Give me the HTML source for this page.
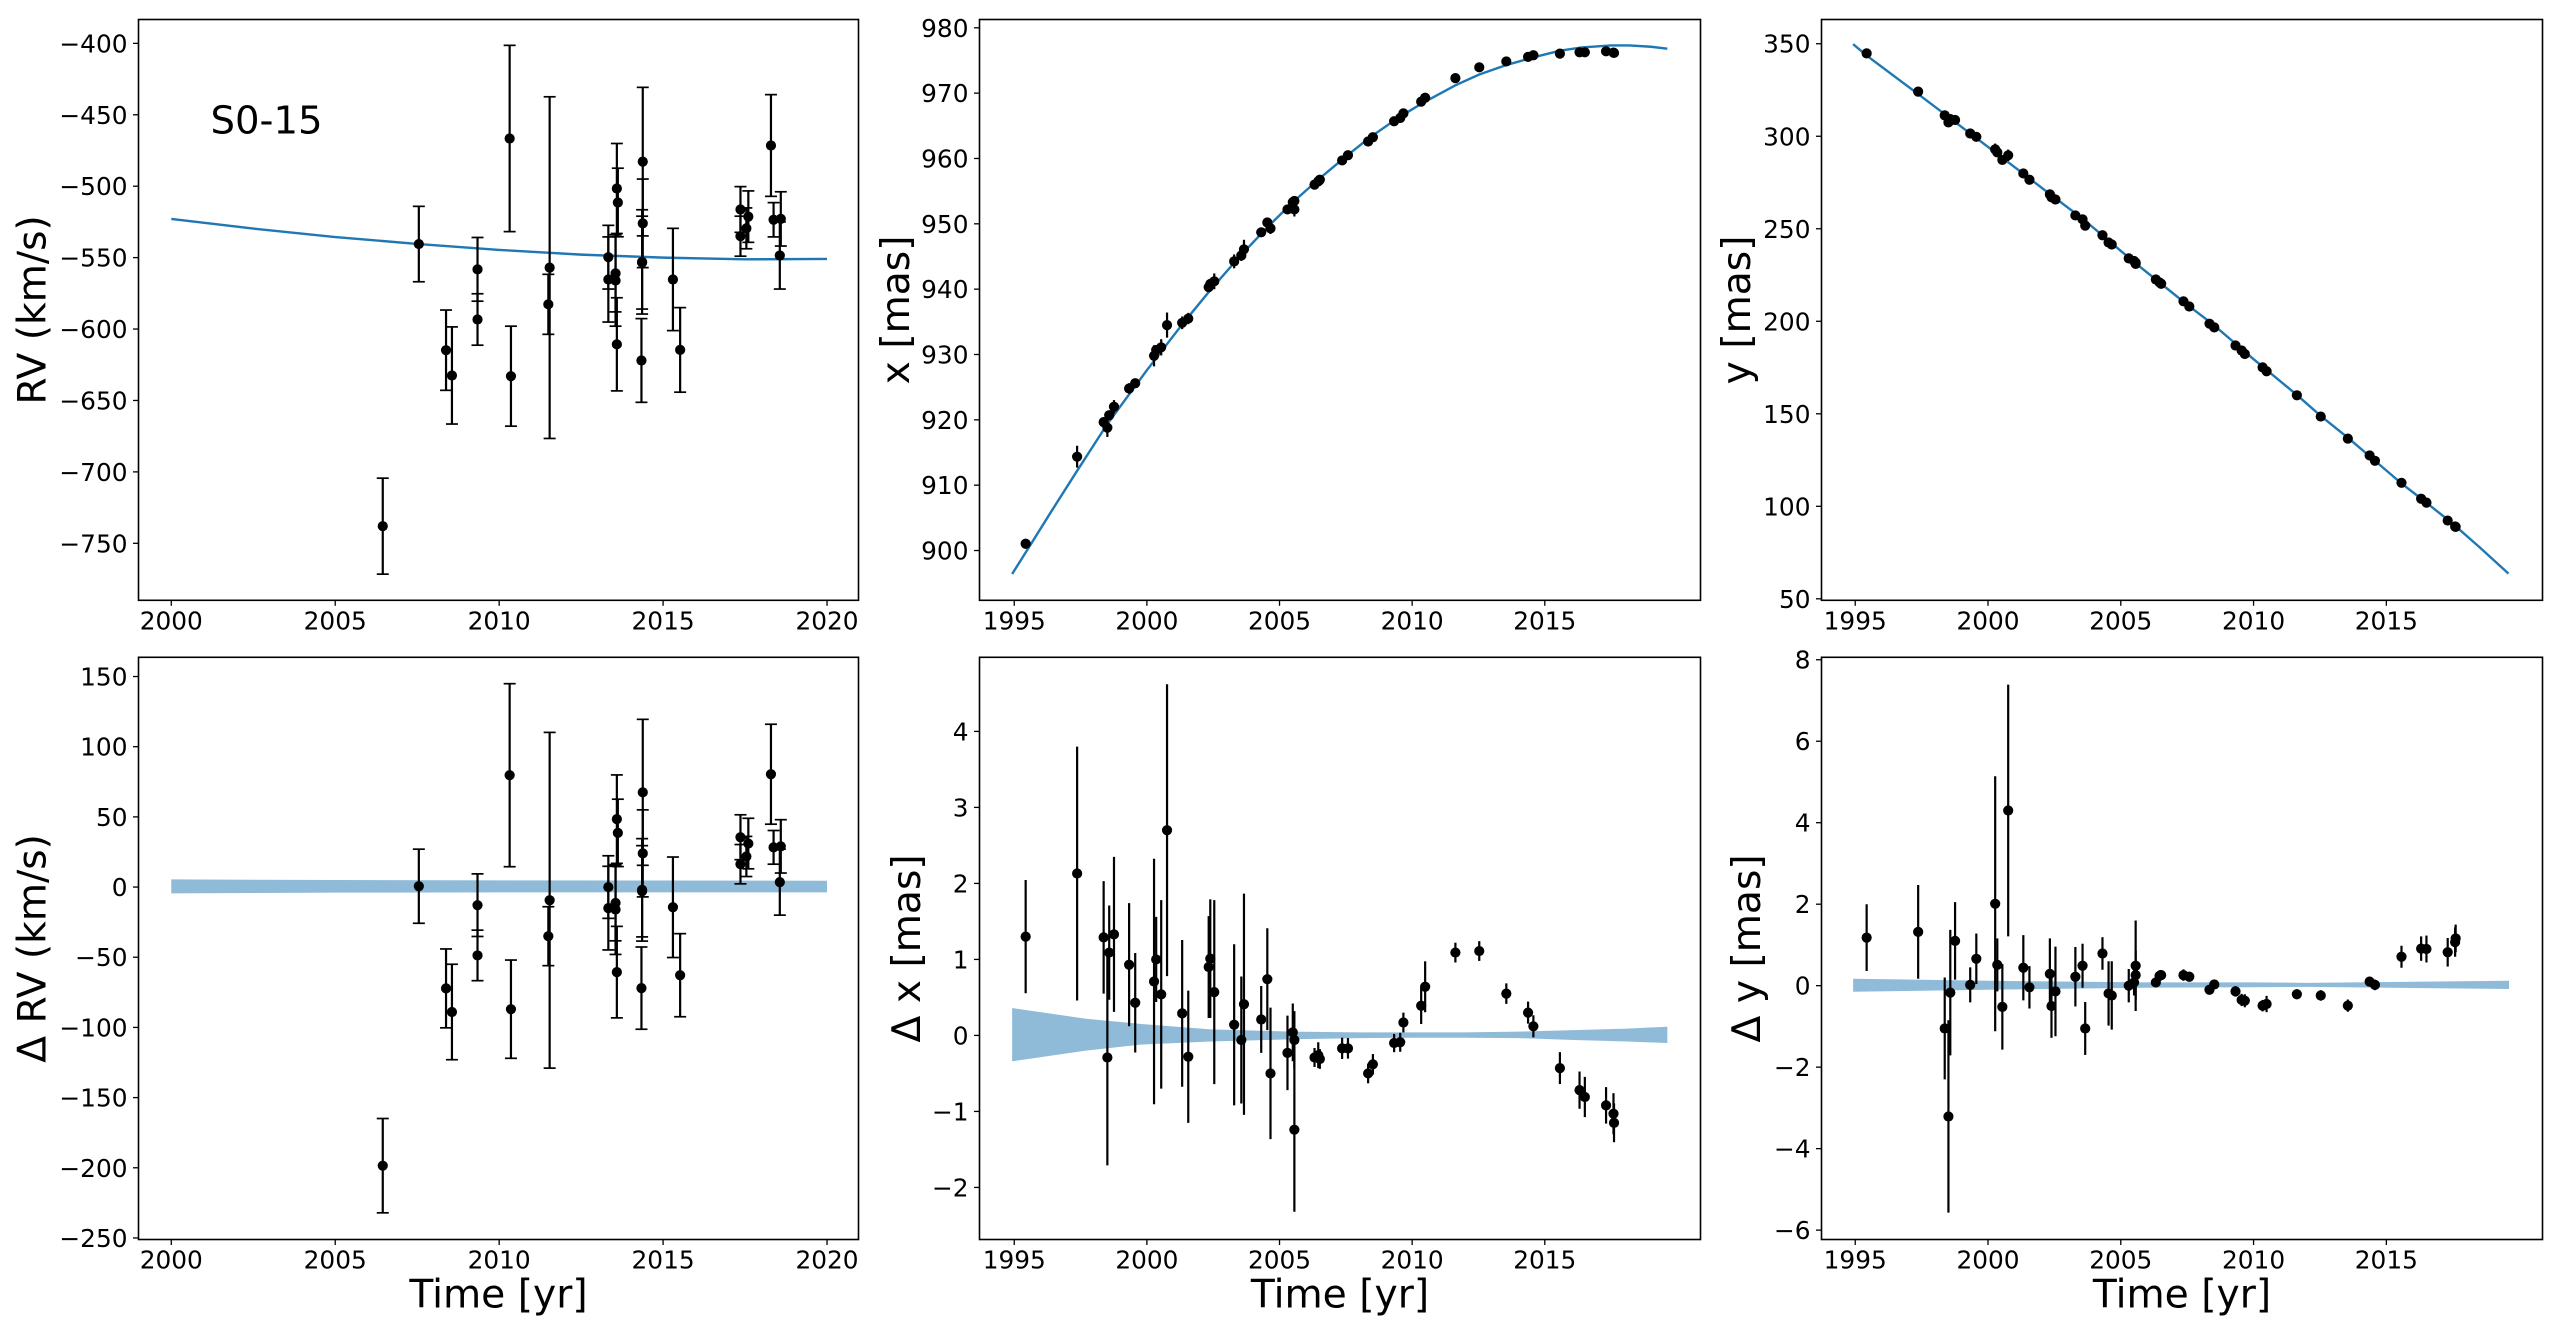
<!DOCTYPE html>
<html lang="en">
<head>
<meta charset="utf-8">
<title>S0-15 orbit fit</title>
<style>
html,body{margin:0;padding:0;background:#fff;}
#figure{display:block;width:2560px;height:1331px;background:#fff;}
text{font-family:"DejaVu Sans","Liberation Sans",sans-serif;fill:#000;}
</style>
</head>
<body>
<svg id="figure" xmlns="http://www.w3.org/2000/svg" width="2560" height="1331" viewBox="0 0 2560 1331"></svg>
<script>
// ---- RV data ----
const rvTimes = [2006.45,2007.55,2008.38,2008.56,2009.34,2009.34,2010.32,2010.36,2011.54,2011.50,2013.33,2013.33,2013.55,2013.55,2013.59,2013.62,2013.59,2014.38,2014.38,2014.36,2014.36,2014.34,2015.30,2015.52,2017.36,2017.36,2017.60,2017.54,2018.29,2018.37,2018.59,2018.56];
const rvValues = [-738,-540.5,-614.8,-632.5,-558.2,-593.3,-466.6,-633,-557,-582.7,-549.7,-565.3,-561,-566,-501.6,-511.4,-610.7,-482.8,-526,-553,-553.5,-622,-565.3,-614.6,-516.3,-535,-521.3,-529.5,-471.5,-523.5,-522.9,-548.5];
const rvErrors = [33.6,26.4,28.1,34,22.3,18,65.2,35,119.6,21,22.3,29.8,27,32,31.5,24,32.6,52,31,36.5,32.5,29.3,35.8,29.6,16,14,18,14.3,35.6,12,19,23.5];
const rvResiduals = [-198.5,0.6,-72.2,-89,-12.9,-48.7,79.7,-87,-9.4,-35,0,-15,-11.3,-16,48.4,38.6,-60.6,67.5,24,-2,-3,-72,-14.4,-62.8,35.5,16.3,31,21.8,80.4,28.3,29,3.5];
const rvModelTimes = [2000,2002.5,2005,2007.5,2010,2012.5,2015,2017.5,2020];
const rvModelValues = [-522.9,-529.7,-535.6,-540.4,-544.6,-547.9,-550,-551.2,-550.9];
const rvBandTimes = [2000,2005,2010,2015,2020];
const rvBandUpper = [5.5,5,4.8,4.7,4.5];
const rvBandLower = [-4.5,-4,-3.8,-3.8,-3.8];

// ---- Astrometry data ----
const astroTimes = [1995.43,1997.37,1998.37,1998.51,1998.58,1998.76,1999.33,1999.56,2000.27,2000.35,2000.54,2000.76,2001.33,2001.56,2002.33,2002.39,2002.54,2003.29,2003.56,2003.66,2004.31,2004.54,2004.66,2005.3,2005.5,2005.56,2005.56,2006.32,2006.46,2006.52,2007.36,2007.58,2008.34,2008.52,2009.32,2009.55,2009.67,2010.34,2010.49,2011.63,2012.53,2013.55,2014.37,2014.57,2015.57,2016.31,2016.51,2017.31,2017.59,2017.61];
const xValues = [901.03,914.36,919.65,918.8,920.7,922,924.8,925.6,929.8,930.7,931.1,934.5,934.85,935.5,940.3,940.8,941.2,944.25,945.15,946.1,948.7,950.2,949.3,952.2,953.3,953.5,952.2,956,956.5,956.75,959.7,960.5,962.6,963.25,965.7,966.2,966.9,968.7,969.3,972.3,973.95,974.85,975.55,975.8,976.05,976.25,976.25,976.4,976.2,976.15];
const xResiduals = [1.30,2.13,1.29,-0.29,1.09,1.33,0.93,0.43,0.71,1.0,0.54,2.70,0.29,-0.28,0.90,1.01,0.57,0.14,-0.06,0.41,0.21,0.74,-0.50,-0.23,0.04,-0.06,-1.24,-0.29,-0.26,-0.31,-0.17,-0.17,-0.50,-0.38,-0.10,-0.09,0.17,0.39,0.64,1.09,1.11,0.55,0.30,0.12,-0.43,-0.72,-0.81,-0.92,-1.03,-1.15];
const xErrors = [0.745,1.67,0.74,1.42,0.62,1.02,0.81,0.655,1.615,0.56,1.24,1.92,0.965,0.87,0.67,0.78,1.21,1.06,0.835,1.455,0.44,0.67,0.865,0.49,0.38,0.38,1.08,0.125,0.17,0.13,0.14,0.135,0.13,0.135,0.12,0.125,0.13,0.24,0.335,0.13,0.13,0.135,0.145,0.145,0.21,0.245,0.265,0.24,0.27,0.255];
const yValues = [344.8,324.1,311.3,307.5,309.3,308.8,301.5,299.7,292.9,291.3,287.2,289.7,279.9,276.5,268.6,267,265.8,257.2,255.1,251.7,246.5,242.6,241.5,234,232.6,231.7,231,222.6,221,220.3,210.8,208,198.7,196.7,186.9,184.2,182.3,175.1,173,160,148.5,136.6,127.5,124.6,112.7,104.1,102,92.3,89.1,88.9];
const yResiduals = [1.18,1.32,-1.05,-3.21,-0.17,1.10,0.02,0.66,2.01,0.51,-0.52,4.30,0.44,-0.04,0.29,-0.5,-0.14,0.22,0.49,-1.05,0.79,-0.19,-0.24,0,0.08,0.26,0.49,0.08,0.24,0.26,0.26,0.22,-0.1,0.03,-0.14,-0.35,-0.37,-0.49,-0.45,-0.21,-0.24,-0.49,0.1,0.02,0.71,0.91,0.9,0.82,1.07,1.16];
const yErrors = [0.82,1.15,1.25,2.36,1.54,0.95,0.43,0.62,3.13,0.65,1.05,3.09,0.80,0.52,0.87,0.78,1.10,0.73,0.54,0.65,0.40,0.79,0.84,0.41,0.32,0.6,1.11,0.12,0.14,0.12,0.14,0.12,0.1,0.11,0.13,0.15,0.16,0.14,0.2,0.12,0.13,0.15,0.12,0.13,0.27,0.3,0.33,0.35,0.36,0.34];

const xModelTimes = [1994.92,1995.43,1996.4,1997.37,1998.5,2000,2001.33,2002.4,2003.5,2004.5,2005.5,2006.5,2007.5,2008.4,2009.5,2010.4,2011.63,2012.53,2013.55,2014.5,2015.57,2016.4,2017.5,2018.2,2019,2019.62];
const xModelValues = [896.4,899.7,906,912.2,919.3,927.6,934.6,939.9,945,949.3,953.3,956.9,960.3,963.2,966.3,968.5,971.2,972.85,974.3,975.4,976.5,977,977.3,977.3,977.1,976.8];
const yModelTimes = [1994.92,1995.43,1997.37,1998.5,2000.3,2002.4,2003.6,2005.5,2007.5,2008.5,2010,2011.63,2012.5,2013.55,2014.5,2015.6,2016.4,2017.5,2018.5,2019.6];
const yModelValues = [349.8,343.6,322.8,310.5,291,268,255,232,209,198,179.5,160.2,149.2,137.1,125.5,112,103.2,90.6,78,63.6];

const xBandTimes = [1994.92,1997.7,1999.8,2002.4,2005.5,2008,2010,2012,2014,2016.1,2018.1,2019.62];
const xBandUpper = [0.36,0.22,0.15,0.08,0.05,0.04,0.04,0.04,0.05,0.07,0.09,0.115];
const xBandLower = [-0.34,-0.2,-0.12,-0.08,-0.05,-0.035,-0.03,-0.03,-0.035,-0.06,-0.08,-0.1];
const yBandTimes = [1994.92,2000,2005.9,2010,2012,2019.62];
const yBandUpper = [0.17,0.12,0.08,0.08,0.07,0.12];
const yBandLower = [-0.15,-0.1,-0.05,-0.04,-0.03,-0.08];

// ---- Tick labels ----
const ticksYearsRv = [2000,2005,2010,2015,2020];
const ticksYearsAstro = [1995,2000,2005,2010,2015];
const ticksRv = [-400,-450,-500,-550,-600,-650,-700,-750];
const ticksX = [900,910,920,930,940,950,960,970,980];
const ticksY = [50,100,150,200,250,300,350];
const ticksDeltaRv = [150,100,50,0,-50,-100,-150,-200,-250];
const ticksDeltaX = [4,3,2,1,0,-1,-2];
const ticksDeltaY = [8,6,4,2,0,-2,-4,-6];

const SVGNS = 'http://www.w3.org/2000/svg';
const root = document.getElementById('figure');
const BLUE = '#1f77b4';

function node(parent, tag, attrs) {
  const el = document.createElementNS(SVGNS, tag);
  for (const k in attrs) el.setAttribute(k, attrs[k]);
  parent.appendChild(el);
  return el;
}
function fmt(v) { return String(v).replace('-', '\u2212'); }

function drawPanel(cfg) {
  const g = node(root, 'g', {});
  
  
  const sx = v => cfg.box[0] + (v - cfg.xlim[0]) / (cfg.xlim[1] - cfg.xlim[0]) * (cfg.box[2] - cfg.box[0]);
  const sy = v => cfg.box[3] - (v - cfg.ylim[0]) / (cfg.ylim[1] - cfg.ylim[0]) * (cfg.box[3] - cfg.box[1]);

  if (cfg.band) {
    const top = cfg.band.t.map((t, i) => sx(t).toFixed(2) + ',' + sy(cfg.band.up[i]).toFixed(2));
    const bot = cfg.band.t.map((t, i) => sx(t).toFixed(2) + ',' + sy(cfg.band.lo[i]).toFixed(2)).reverse();
    const band = node(g, 'polygon', {points: top.concat(bot).join(' '), fill: BLUE, 'fill-opacity': 0.5});
    
    
  }
  if (cfg.model) {
    const pts = cfg.model.t.map((t, i) => sx(t).toFixed(2) + ',' + sy(cfg.model.v[i]).toFixed(2)).join(' ');
    const line = node(g, 'polyline', {points: pts, fill: 'none', stroke: BLUE, 'stroke-width': 2.4, 'stroke-linejoin': 'round'});
    
    
  }
  cfg.times.forEach((t, i) => {
    const px = sx(t), v = cfg.values[i], e = cfg.errors[i];
    const bar = node(g, 'line', {x1: px, x2: px, y1: sy(v - e), y2: sy(v + e), stroke: '#000', 'stroke-width': 2.2});
    
    
    if (cfg.caps) {
      [v - e, v + e].forEach(c => {
        const cap = node(g, 'line', {x1: px - 6, x2: px + 6, y1: sy(c), y2: sy(c), stroke: '#000', 'stroke-width': 1.7});
        
        
      });
    }
  });
  cfg.times.forEach((t, i) => {
    const pt = node(g, 'circle', {cx: sx(t), cy: sy(cfg.values[i]), r: 5.1, fill: '#000'});
    
    
  });

  const frame = node(g, 'rect', {x: cfg.box[0], y: cfg.box[1], width: cfg.box[2] - cfg.box[0], height: cfg.box[3] - cfg.box[1], fill: 'none', stroke: '#000', 'stroke-width': 1.6});
  
  

  cfg.xticks.forEach(v => {
    const tick = node(g, 'line', {x1: sx(v), x2: sx(v), y1: cfg.box[3], y2: cfg.box[3] + 5.5, stroke: '#000', 'stroke-width': 1.3});
    
    
    const lab = node(g, 'text', {x: sx(v), y: cfg.box[3] + 29, 'text-anchor': 'middle', 'font-size': 24.8});
    lab.textContent = fmt(v);
    
    
  });
  cfg.yticks.forEach(v => {
    const tick = node(g, 'line', {x1: cfg.box[0] - 5.5, x2: cfg.box[0], y1: sy(v), y2: sy(v), stroke: '#000', 'stroke-width': 1.3});
    
    
    const lab = node(g, 'text', {x: cfg.box[0] - 11, y: sy(v) + 9, 'text-anchor': 'end', 'font-size': 24.8});
    lab.textContent = fmt(v);
    
    
  });

  const cy = (cfg.box[1] + cfg.box[3]) / 2;
  const yTitle = node(g, 'text', {x: cfg.ylabelX, y: cy, 'text-anchor': 'middle', 'font-size': 39.2, transform: 'rotate(-90 ' + cfg.ylabelX + ' ' + cy + ')'});
  yTitle.textContent = cfg.ylabel;
  
  

  if (cfg.xlabel) {
    const xTitle = node(g, 'text', {x: (cfg.box[0] + cfg.box[2]) / 2, y: 1307.5, 'text-anchor': 'middle', 'font-size': 39.2});
    xTitle.textContent = cfg.xlabel;
    
    
  }
}

drawPanel({name: 'rv', box: [138.5, 19.5, 858.5, 600.3], xlim: [1999.0, 2020.96], ylim: [-789.9, -383.3],
  times: rvTimes, values: rvValues, errors: rvErrors, caps: true,
  model: {t: rvModelTimes, v: rvModelValues},
  xticks: ticksYearsRv, yticks: ticksRv, ylabel: 'RV (km/s)', ylabelX: 45.5});

drawPanel({name: 'x-position', box: [979.5, 19.5, 1700.5, 600.3], xlim: [1993.69, 2020.87], ylim: [892.38, 981.27],
  times: astroTimes, values: xValues, errors: xErrors,
  model: {t: xModelTimes, v: xModelValues},
  xticks: ticksYearsAstro, yticks: ticksX, ylabel: 'x [mas]', ylabelX: 909});

drawPanel({name: 'y-position', box: [1821.5, 19.5, 2542.5, 600.3], xlim: [1993.73, 2020.88], ylim: [49.2, 363.1],
  times: astroTimes, values: yValues, errors: yErrors,
  model: {t: yModelTimes, v: yModelValues},
  xticks: ticksYearsAstro, yticks: ticksY, ylabel: 'y [mas]', ylabelX: 1750});

drawPanel({name: 'delta-rv', box: [138.5, 657.3, 858.5, 1239.5], xlim: [1999.0, 2020.96], ylim: [-251.1, 163.7],
  times: rvTimes, values: rvResiduals, errors: rvErrors, caps: true,
  band: {t: rvBandTimes, up: rvBandUpper, lo: rvBandLower},
  xticks: ticksYearsRv, yticks: ticksDeltaRv, ylabel: '\u0394 RV (km/s)', ylabelX: 45.5, xlabel: 'Time [yr]'});

drawPanel({name: 'delta-x', box: [979.5, 657.3, 1700.5, 1239.5], xlim: [1993.69, 2020.87], ylim: [-2.685, 4.975],
  times: astroTimes, values: xResiduals, errors: xErrors,
  band: {t: xBandTimes, up: xBandUpper, lo: xBandLower},
  xticks: ticksYearsAstro, yticks: ticksDeltaX, ylabel: '\u0394 x [mas]', ylabelX: 920, xlabel: 'Time [yr]'});

drawPanel({name: 'delta-y', box: [1821.5, 657.3, 2542.5, 1239.5], xlim: [1993.73, 2020.88], ylim: [-6.23, 8.06],
  times: astroTimes, values: yResiduals, errors: yErrors,
  band: {t: yBandTimes, up: yBandUpper, lo: yBandLower},
  xticks: ticksYearsAstro, yticks: ticksDeltaY, ylabel: '\u0394 y [mas]', ylabelX: 1760, xlabel: 'Time [yr]'});

const starLabel = node(root, 'text', {x: 210.5, y: 133.5, 'font-size': 38.6});
starLabel.textContent = 'S0-15';


</script>
</body>
</html>
